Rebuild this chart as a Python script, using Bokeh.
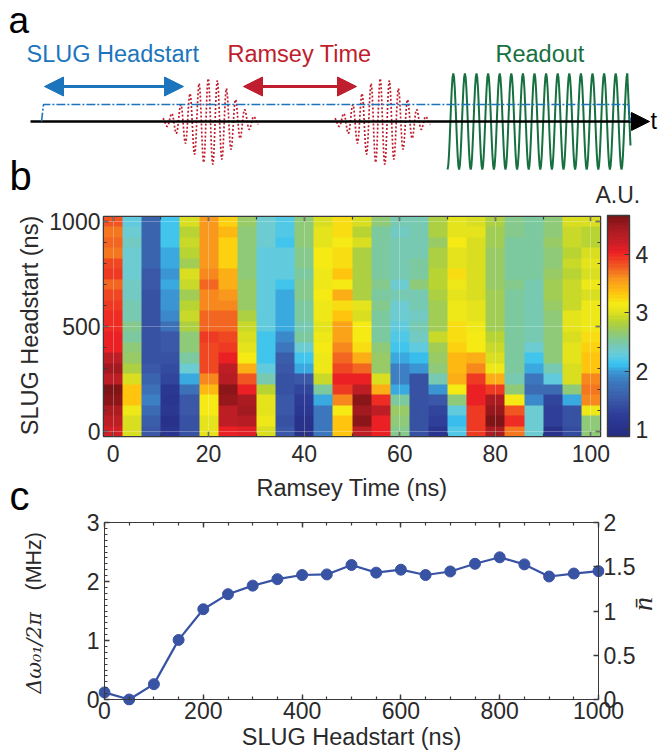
import math
import numpy as np
from bokeh.embed import file_html
from bokeh.resources import INLINE
from bokeh.layouts import column, row
from bokeh.plotting import figure
from bokeh.models import (Range1d, LinearAxis, FixedTicker, Label, Arrow, NormalHead,
                          LinearColorMapper, ColorBar)

SANS = "Liberation Sans"
SERIF = "Liberation Serif"
MATH = "DejaVu Serif"
INK = "#2b2a2b"
FRAME = "#3a3a3c"

# ---------- panel a (schematic, read in picture pixels) ----------
time_axis_x = [30, 636]
time_axis_y = [121, 121]
slug_x = [41, 43, 628, 630]
slug_y = [121, 104, 104, 121]
slug_arrow_x = [44, 183]
ramsey_arrow_x = [243, 356]
arrow_y = 86
pulse_centres = [210, 382]
pulse_amps = [3, 5, 8, 12, 17, 22, 28, 33, 38, 41, 43, 43, 41, 38, 33, 28, 22, 17, 12, 8, 5, 3]
pulse_halfperiod = 4.55
readout_start = 447
readout_end = 630
readout_halfperiod = 5.8
readout_amp = 48

# ---------- panel b ----------
ramsey_ns = [0, 4, 8, 12, 16, 20, 24, 28, 32, 36, 40, 44, 48, 52, 56, 60, 64, 68, 72, 76, 80, 84, 88, 92, 96, 100]
heat_headstart_ns = [1000, 950, 900, 850, 800, 750, 700, 650, 600, 550, 500, 450, 400, 350, 300, 250, 200, 150, 100, 50, 0]
# one list per Ramsey time, read from top (1000 ns) to bottom (0 ns)
au_by_ramsey = [
    [3.80, 3.70, 3.75, 3.70, 3.85, 3.95, 3.75, 3.85, 3.90, 4.00, 4.00, 4.05, 4.05, 4.25, 4.45, 4.30, 4.65, 4.55, 4.40, 4.30, 4.15],
    [2.25, 2.30, 2.40, 2.30, 2.35, 2.30, 2.38, 2.38, 2.45, 2.45, 2.55, 2.50, 2.60, 2.70, 2.80, 2.95, 3.35, 3.32, 3.12, 2.97, 3.00],
    [1.60, 1.60, 1.60, 1.60, 1.60, 1.50, 1.50, 1.45, 1.45, 1.45, 1.45, 1.45, 1.42, 1.42, 1.50, 1.60, 1.75, 1.85, 1.70, 1.55, 1.50],
    [2.15, 2.15, 2.15, 2.05, 2.05, 2.00, 2.05, 2.00, 2.00, 1.90, 1.72, 1.50, 1.50, 1.42, 1.40, 1.30, 1.15, 1.10, 1.15, 1.00, 1.10],
    [2.95, 2.85, 2.90, 2.85, 2.75, 2.97, 2.90, 2.75, 2.85, 2.90, 2.80, 2.65, 2.65, 2.50, 2.35, 2.02, 1.72, 1.50, 1.50, 1.45, 1.45],
    [3.55, 3.55, 3.55, 3.55, 3.55, 3.60, 3.75, 3.65, 3.60, 3.75, 3.75, 3.95, 3.85, 3.85, 3.85, 3.60, 3.40, 3.15, 3.15, 3.05, 3.05],
    [3.25, 3.40, 3.30, 3.30, 3.30, 3.45, 3.45, 3.55, 3.60, 3.75, 3.75, 3.85, 3.95, 4.05, 4.30, 4.35, 4.60, 4.50, 4.30, 4.30, 4.05],
    [2.70, 2.65, 2.65, 2.65, 2.65, 2.65, 2.70, 2.70, 2.70, 2.80, 2.90, 2.97, 3.05, 3.15, 3.45, 3.80, 4.05, 4.40, 4.45, 4.35, 4.10],
    [2.35, 2.35, 2.30, 2.28, 2.28, 2.25, 2.25, 2.25, 2.25, 2.25, 2.25, 2.15, 2.15, 2.15, 2.28, 2.45, 2.85, 3.05, 3.05, 3.12, 2.95],
    [2.20, 2.20, 2.15, 2.25, 2.25, 2.25, 2.15, 2.05, 2.05, 2.02, 2.02, 1.92, 1.80, 1.55, 1.50, 1.42, 1.42, 1.52, 1.52, 1.45, 1.50],
    [2.60, 2.60, 2.60, 2.55, 2.55, 2.50, 2.55, 2.55, 2.50, 2.50, 2.45, 2.50, 2.35, 2.15, 2.05, 1.50, 1.30, 1.20, 1.15, 1.00, 1.00],
    [3.00, 3.05, 3.05, 3.15, 3.15, 3.10, 3.10, 3.15, 3.10, 3.10, 3.05, 3.12, 3.15, 3.10, 3.10, 2.92, 2.50, 2.05, 1.78, 1.82, 1.82],
    [3.20, 3.20, 3.15, 3.20, 3.20, 3.35, 3.17, 3.45, 3.20, 3.33, 3.50, 3.50, 3.60, 3.75, 3.85, 4.05, 3.92, 3.60, 3.17, 3.33, 3.33],
    [2.95, 2.85, 2.95, 2.80, 2.80, 2.80, 2.82, 2.82, 3.05, 2.95, 3.15, 3.17, 3.20, 3.42, 3.75, 4.05, 4.30, 4.60, 4.45, 4.55, 4.30],
    [2.60, 2.50, 2.50, 2.50, 2.50, 2.50, 2.55, 2.50, 2.55, 2.50, 2.50, 2.50, 2.65, 2.70, 2.70, 3.00, 3.45, 4.00, 4.25, 4.05, 4.05],
    [2.45, 2.40, 2.45, 2.45, 2.45, 2.42, 2.35, 2.42, 2.35, 2.30, 2.25, 2.22, 2.15, 2.05, 1.88, 1.88, 2.05, 2.50, 2.68, 2.62, 2.55],
    [2.45, 2.45, 2.45, 2.45, 2.50, 2.50, 2.60, 2.45, 2.45, 2.40, 2.45, 2.40, 2.25, 2.12, 2.00, 1.45, 1.45, 1.45, 1.45, 1.45, 1.45],
    [2.80, 2.80, 2.70, 2.80, 2.80, 2.85, 2.85, 2.80, 2.75, 2.75, 2.75, 2.90, 2.75, 2.70, 2.62, 2.45, 1.95, 1.50, 1.35, 1.25, 1.10],
    [3.05, 3.05, 3.15, 3.05, 3.05, 3.20, 3.12, 3.05, 3.10, 3.10, 3.20, 3.20, 3.30, 3.38, 3.38, 3.45, 3.15, 2.60, 2.25, 2.12, 2.22],
    [2.95, 3.05, 2.95, 2.97, 2.95, 3.00, 3.00, 3.00, 3.05, 3.05, 3.10, 3.15, 3.17, 3.45, 3.60, 3.95, 4.05, 4.05, 3.92, 3.92, 3.92],
    [2.80, 2.75, 2.75, 2.70, 2.70, 2.70, 2.70, 2.72, 2.72, 2.75, 2.75, 2.85, 2.90, 2.97, 3.10, 3.45, 3.95, 4.40, 4.50, 4.65, 4.40],
    [2.55, 2.55, 2.50, 2.50, 2.50, 2.50, 2.55, 2.50, 2.50, 2.50, 2.50, 2.50, 2.50, 2.50, 2.50, 2.45, 2.65, 3.17, 3.80, 4.00, 3.70],
    [2.48, 2.48, 2.48, 2.48, 2.48, 2.48, 2.45, 2.45, 2.45, 2.45, 2.45, 2.45, 2.30, 2.15, 2.05, 1.80, 1.65, 1.92, 2.30, 2.30, 2.30],
    [2.65, 2.65, 2.70, 2.65, 2.65, 2.70, 2.75, 2.72, 2.68, 2.65, 2.65, 2.60, 2.60, 2.60, 2.45, 2.25, 1.70, 1.35, 1.25, 1.25, 1.05],
    [3.00, 2.92, 2.92, 2.85, 2.92, 2.88, 2.92, 2.90, 2.90, 3.05, 3.05, 3.00, 3.05, 3.05, 3.00, 3.00, 2.65, 2.05, 1.45, 1.45, 1.40],
    [2.95, 2.88, 2.88, 3.00, 3.05, 3.00, 3.07, 2.95, 3.10, 3.10, 3.10, 3.20, 3.28, 3.35, 3.35, 3.60, 3.68, 3.62, 3.10, 2.65, 2.65],
]
cbar_levels = [0.88, 1.2, 1.5, 1.8, 1.95, 2.1, 2.3, 2.5, 2.7, 2.85, 3.0, 3.15, 3.35, 3.6, 3.8, 4.05, 4.25, 4.45, 4.66]
cbar_colours = ["#262d84", "#2d3b97", "#3b5aa8", "#3c78bd", "#3b92d0", "#37c4f2", "#6bcbd8", "#7cc9a0",
                "#9bcb5f", "#b5d334", "#dfe01e", "#f5ec15", "#ffc20e", "#f7941d", "#f15a22", "#ed2024",
                "#c41e26", "#a81a20", "#7f1416"]

# ---------- panel c ----------
slug_headstart_ns = [0, 50, 100, 150, 200, 250, 300, 350, 400, 450, 500, 550, 600, 650, 700, 750, 800, 850, 900, 950, 1000]
delta_omega_mhz = [0.12, 0.00, 0.26, 1.01, 1.53, 1.785, 1.93, 2.04, 2.11, 2.12, 2.28, 2.15, 2.20, 2.11, 2.17, 2.30, 2.41, 2.29, 2.085, 2.135, 2.175]


def rgb(h):
    return [int(h[i:i + 2], 16) for i in (1, 3, 5)]


def make_palette(n=64):
    out = []
    cols = np.array([rgb(c) for c in cbar_colours], dtype=float)
    for v in np.linspace(cbar_levels[0], cbar_levels[-1], n):
        c = [np.interp(v, cbar_levels, cols[:, k]) for k in range(3)]
        out.append("#%02x%02x%02x" % tuple(int(round(x)) for x in c))
    return out


def smooth_through(tx, ty, steps=8):
    xs, ys = [], []
    for i in range(len(tx) - 1):
        for s in range(steps):
            f = s / steps
            g = (1 - math.cos(math.pi * f)) / 2
            xs.append(tx[i] + (tx[i + 1] - tx[i]) * f)
            ys.append(ty[i] + (ty[i + 1] - ty[i]) * g)
    xs.append(tx[-1])
    ys.append(ty[-1])
    return xs, ys


def sheet(x0, x1, y0, y1):
    """A bare figure whose data coordinates are picture pixels; it only carries free texts and schematic marks."""
    f = figure(width=x1 - x0, height=y1 - y0, frame_width=x1 - x0, frame_height=y1 - y0, frame_align=False,
               x_range=Range1d(x0, x1), y_range=Range1d(y1, y0),
               output_backend="svg", toolbar_location=None, outline_line_color=None,
               min_border_left=0, min_border_right=0, min_border_top=0, min_border_bottom=0,
               x_axis_location=None, y_axis_location=None)
    f.grid.visible = False
    return f


BASE = 0.36  # the baseline of a Label sits this many em below its anchor


def ptext(x, y, t, size, col="black", font=SANS, align="left", angle=0, style="normal"):
    if angle:
        x -= BASE * size
    else:
        y -= BASE * size
    return Label(x=x, y=y, text=t, text_font=font, text_font_size=f"{size}px", text_color=col,
                 text_align=align, text_baseline="alphabetic", angle=angle, text_font_style=style)


# ===== figure a =====
pa = sheet(0, 658, 0, 208)

rx = list(np.arange(readout_start, readout_end, readout_halfperiod))
ry = [121 + (readout_amp if i % 2 == 0 else -readout_amp) for i in range(len(rx))]
wx, wy = smooth_through(rx, ry)
pa.line(wx, wy, line_color="#17703f", line_width=2.0)
pa.line([rx[-1], readout_end], [ry[-1], 145], line_color="#17703f", line_width=2.0)

for cx_ in pulse_centres:
    n = len(pulse_amps)
    tx = [cx_ + (i - (n - 1) / 2) * pulse_halfperiod for i in range(n)]
    ty = [121 + (a if i % 2 else -a) for i, a in enumerate(pulse_amps)]
    px, py = smooth_through(tx, ty)
    pa.line(px, py, line_color="#be1e2d", line_width=1.7, line_dash="2 2")

pa.line(time_axis_x, time_axis_y, line_color="black", line_width=2.4)
pa.add_layout(Arrow(end=NormalHead(size=18, fill_color="black", line_color="black"),
                    x_start=time_axis_x[1] - 5, y_start=121, x_end=649, y_end=121,
                    line_color="black", line_width=2.4))
pa.line(slug_x, slug_y, line_color="#1c75bc", line_width=1.6, line_dash="9 2 2 2")


def double_arrow(xs, col):
    pa.add_layout(Arrow(start=NormalHead(size=19, fill_color=col, line_color=col),
                        end=NormalHead(size=19, fill_color=col, line_color=col),
                        x_start=xs[0], y_start=arrow_y, x_end=xs[1], y_end=arrow_y,
                        line_color=col, line_width=3))


double_arrow(slug_arrow_x, "#1c75bc")
double_arrow(ramsey_arrow_x, "#be1e2d")

for lab in [
    ptext(8, 33.5, "a", 37), ptext(9, 190, "b", 40),
    ptext(26, 62, "SLUG Headstart", 23.5, "#1c75bc"),
    ptext(227, 62, "Ramsey Time", 23.5, "#be1e2d"),
    ptext(495, 62, "Readout", 23.5, "#17703f"),
    ptext(650, 129, "t", 23.5, "black"),
    ptext(595, 203, "A.U.", 23, INK),
]:
    pa.add_layout(lab)

# ===== left strip with the texts that lie outside the frames =====
strip = sheet(0, 46, 208, 750)
for lab in [
    ptext(38, 325, "SLUG Headstart (ns)", 23.5, INK, align="center", angle=math.pi / 2),
    ptext(9, 510, "c", 40),
    ptext(41, 693, "Δω₀₁/2π", 20.5, INK, MATH, angle=math.pi / 2, style="italic"),
    ptext(41, 590, "(MHz)", 21.5, INK, SANS, angle=math.pi / 2),
]:
    strip.add_layout(lab)

# ===== figure b =====
pb = figure(width=612, height=300, frame_width=497, frame_height=220, frame_align=False,
            x_range=Range1d(ramsey_ns[0] - 2, ramsey_ns[-1] + 2),
            y_range=Range1d(heat_headstart_ns[-1] - 25, heat_headstart_ns[0] + 25),
            output_backend="svg", toolbar_location=None,
            min_border_left=57, min_border_right=58, min_border_top=8, min_border_bottom=72,
            outline_line_color=FRAME, outline_line_width=1.5)
mapper = LinearColorMapper(palette=make_palette(), low=cbar_levels[0], high=cbar_levels[-1])
heat = np.array(au_by_ramsey, dtype=float).T[::-1]
pb.image(image=[heat], x=ramsey_ns[0] - 2, y=heat_headstart_ns[-1] - 25, dw=104, dh=1050, color_mapper=mapper)


def style_axis(ax, fs=23):
    ax.major_label_text_font = SANS
    ax.major_label_text_font_size = f"{fs}px"
    ax.major_label_text_color = INK
    ax.axis_label_text_font = SANS
    ax.axis_label_text_font_size = "23.5px"
    ax.axis_label_text_font_style = "normal"
    ax.axis_label_text_color = INK
    ax.axis_line_color = FRAME
    ax.major_tick_line_color = FRAME
    ax.minor_tick_line_color = FRAME
    ax.major_tick_line_width = 1.4
    ax.minor_tick_line_width = 1.2
    ax.major_tick_in = 5
    ax.major_tick_out = 0
    ax.minor_tick_in = 3
    ax.minor_tick_out = 0
    ax.major_label_standoff = 5


def silent_axis(ticker, ticks, **kw):
    ax = LinearAxis(ticker=ticker, **kw)
    style_axis(ax)
    ax.major_label_overrides = {t: "" for t in ticks}
    ax.major_label_text_font_size = "1px"
    ax.major_label_standoff = 0
    return ax


def text_only(ax):
    ax.axis_line_color = None
    ax.major_tick_line_color = None
    ax.minor_tick_line_color = None


b_x_major = [0, 20, 40, 60, 80, 100]
b_y_major = [0, 500, 1000]
b_x_ticks = FixedTicker(ticks=b_x_major, minor_ticks=[10, 30, 50, 70, 90])
b_y_ticks = FixedTicker(ticks=b_y_major, minor_ticks=[100, 200, 300, 400, 600, 700, 800, 900])
xa = pb.xaxis[0]; ya = pb.yaxis[0]
xa.ticker = b_x_ticks; ya.ticker = b_y_ticks
style_axis(xa); style_axis(ya)
xa.axis_label = "Ramsey Time (ns)"
xa.major_label_standoff = 8
xa.axis_label_standoff = 10
ya.major_label_standoff = 3
pb.add_layout(silent_axis(b_x_ticks, b_x_major), "above")
pb.add_layout(silent_axis(b_y_ticks, b_y_major), "right")
pb.xgrid.ticker = FixedTicker(ticks=b_x_major)
pb.ygrid.ticker = FixedTicker(ticks=b_y_major)
for g in (pb.xgrid[0], pb.ygrid[0]):
    g.grid_line_color = "white"
    g.grid_line_alpha = 0.28
    g.grid_line_width = 1
    g.level = "overlay"

cb = ColorBar(color_mapper=mapper, ticker=FixedTicker(ticks=[1, 2, 3, 4]), width=22, height=221,
              location=(7, 0), margin=0, padding=0,
              major_label_text_font=SANS, major_label_text_font_size="23px", major_label_text_color=INK,
              major_tick_line_color=FRAME, major_tick_in=5, major_tick_out=0, minor_tick_line_color=None,
              bar_line_color=FRAME, bar_line_width=1.4, label_standoff=6)
pb.add_layout(cb, "right")

# ===== figure c: the frame is 6 px larger than the axes so that markers may stand over them =====
x_pad = 6 * 1000 / 494
y_pad = 6 * 3 / 177
pc = figure(width=612, height=242, frame_width=506, frame_height=189, frame_align=False,
            x_range=Range1d(-x_pad, 1000 + x_pad), y_range=Range1d(-y_pad, 3 + y_pad),
            output_backend="svg", toolbar_location=None,
            min_border_left=52, min_border_right=54, min_border_top=8, min_border_bottom=45,
            outline_line_color=None)
pc.grid.visible = False
pc.extra_y_ranges = {"nbar": Range1d(-y_pad * 2 / 3, 2 + y_pad * 2 / 3)}

c_x_major = [0, 200, 400, 600, 800, 1000]
c_x_ticks = FixedTicker(ticks=c_x_major, minor_ticks=list(range(0, 1001, 50)))
c_y_major = [0, 1, 2, 3]
c_y_ticks = FixedTicker(ticks=c_y_major, minor_ticks=[i * 0.1 for i in range(31)])
nbar_major = [0, 0.5, 1, 1.5, 2]
nbar_ticks = FixedTicker(ticks=nbar_major)

# texts of the axes, on the frame's edge
cx = pc.xaxis[0]; cy = pc.yaxis[0]
style_axis(cx, 23); style_axis(cy, 23)
text_only(cx); text_only(cy)
cx.ticker = c_x_ticks
cy.ticker = c_y_ticks
cx.axis_label = "SLUG Headstart (ns)"
cx.axis_label_standoff = 2
cx.major_label_standoff = -4
cy.major_label_standoff = -1
rax = LinearAxis(y_range_name="nbar", ticker=nbar_ticks)
style_axis(rax, 23)
text_only(rax)
rax.major_label_overrides = {0: "0", 0.5: "0.5", 1: "1", 1.5: "1.5", 2: "2"}
rax.major_label_standoff = -1
rax.axis_label = "n̄"
rax.axis_label_text_font = SERIF
rax.axis_label_text_font_style = "italic"
rax.axis_label_text_font_size = "28px"
rax.axis_label_orientation = math.pi / 2
rax.axis_label_standoff = 4
pc.add_layout(rax, "right")

# lines and ticks of the axes, at the data limits
a_bottom = silent_axis(c_x_ticks, c_x_major); a_bottom.fixed_location = 0; a_bottom.bounds = (0, 1000)
a_top = silent_axis(c_x_ticks, c_x_major); a_top.fixed_location = 3; a_top.bounds = (0, 1000)
a_left = silent_axis(c_y_ticks, c_y_major); a_left.fixed_location = 0; a_left.bounds = (0, 3)
a_right = silent_axis(nbar_ticks, nbar_major, y_range_name="nbar"); a_right.fixed_location = 1000; a_right.bounds = (0, 2)
pc.add_layout(a_bottom, "below")
pc.add_layout(a_top, "above")
pc.add_layout(a_left, "left")
pc.add_layout(a_right, "right")

pc.line(slug_headstart_ns, delta_omega_mhz, line_color="#3953a4", line_width=2.2)
pc.scatter(slug_headstart_ns, delta_omega_mhz, size=11, fill_color="#3953a4", line_color="#3953a4")

page = column(pa, row(strip, column(pb, pc, spacing=0), spacing=0), spacing=0)
open("out.html", "w").write(file_html(page, INLINE))
